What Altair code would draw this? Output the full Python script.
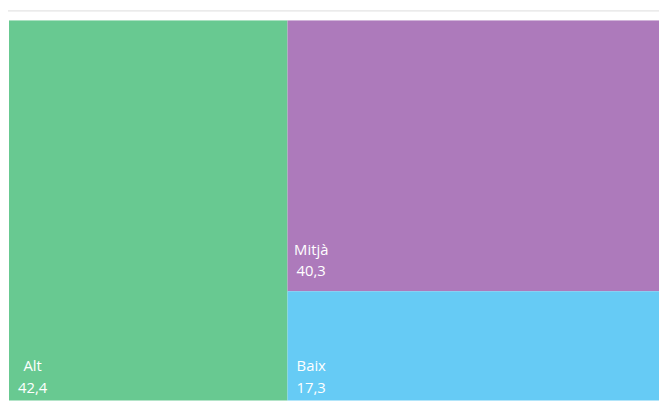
import altair as alt
import pandas as pd

categories = ["Alt", "Mitjà", "Baix"]
values = [42.4, 40.3, 17.3]
colors = ["#68C991", "#AD7ABB", "#66CBF5"]

# slice-and-dice treemap layout: first item its own column, the rest stacked
total = sum(values)
rows = []
first_w = values[0] / total * 100
rows.append(dict(cat=categories[0], val=values[0], x0=0.0, x1=first_w, y0=0.0, y1=100.0))
rest = total - values[0]
ycur = 0.0
for c, v in zip(categories[1:], values[1:]):
    h = v / rest * 100
    rows.append(dict(cat=c, val=v, x0=first_w, x1=100.0, y0=ycur, y1=ycur + h))
    ycur += h
df = pd.DataFrame(rows)
df["label"] = df["val"].map(lambda v: f"{v:.1f}".replace(".", ","))

xs = alt.Scale(domain=[0, 100], range=[0, 665])
ys = alt.Scale(domain=[0, 100], range=[0, 392])
cs = alt.Scale(domain=categories, range=colors)

base = alt.Chart(df)

rects = base.mark_rect(clip=True, strokeWidth=0).encode(
    x=alt.X("x0:Q", scale=xs, axis=None),
    x2="x1:Q",
    y=alt.Y("y0:Q", scale=ys, axis=None),
    y2="y1:Q",
    color=alt.Color("cat:N", scale=cs, legend=None),
)

font = "Segoe UI, Open Sans, Noto Sans, sans-serif"
names = base.mark_text(align="center", baseline="middle", dx=24, dy=-42,
                       color="white", fontSize=15, font=font).encode(
    x=alt.X("x0:Q", scale=xs, axis=None),
    y=alt.Y("y1:Q", scale=ys, axis=None),
    text="cat:N",
)
vals = base.mark_text(align="center", baseline="middle", dx=24, dy=-20,
                      color="white", fontSize=15, font=font).encode(
    x=alt.X("x0:Q", scale=xs, axis=None),
    y=alt.Y("y1:Q", scale=ys, axis=None),
    text="label:N",
)

topline = alt.Chart(pd.DataFrame({"a": [0]})).mark_rule(
    color="#dcdcdc", strokeWidth=1, clip=False
).encode(x=alt.value(-1), x2=alt.value(658), y=alt.value(-9.5))

chart = alt.layer(topline, rects, names, vals).properties(
    width=658, height=385,
    autosize=alt.AutoSizeParams(type="none"),
    padding={"left": 1, "top": 10, "right": 0, "bottom": 0},
    background="white",
).configure_view(stroke=None)

chart.save("out.html", embed_options={"renderer": "svg", "actions": False})
